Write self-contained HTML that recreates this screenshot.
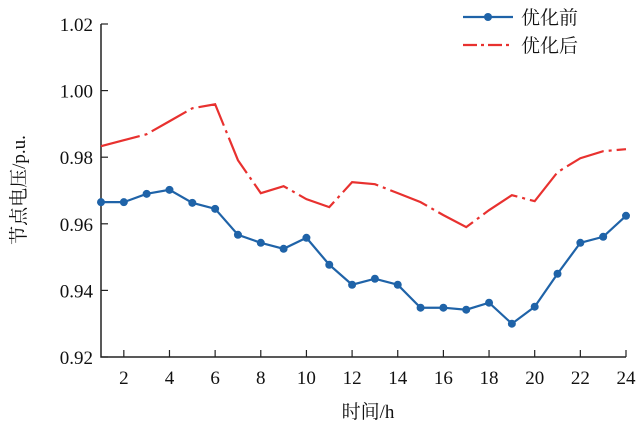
<!DOCTYPE html>
<html><head><meta charset="utf-8"><style>
body{margin:0;background:#fff;}
svg text{font-family:"Liberation Serif","Noto Serif CJK SC",serif;fill:#111;}
</style></head><body>
<svg width="637" height="429">
<g id="axes"></g><g id="series"></g>
<g>
<line x1="463" y1="17" x2="513" y2="17" stroke="#1f63a8" stroke-width="2.2"/>
<circle cx="488" cy="17" r="4" fill="#1f63a8"/>
<text x="521" y="24" font-size="19" font-family="Noto Sans CJK SC">优化前</text>
<line x1="463" y1="45" x2="513" y2="45" stroke="#e8312f" stroke-width="2.2" stroke-dasharray="14,4,3,4"/>
<text x="521" y="52" font-size="19">优化后</text>
</g>
<text x="368" y="418" font-size="19" text-anchor="middle">时间/h</text>
<text transform="translate(25,190) rotate(-90)" font-size="19" text-anchor="middle">节点电压/p.u.</text>
</svg>
<script>
const hours=[1,2,3,4,5,6,7,8,9,10,11,12,13,14,15,16,17,18,19,20,21,22,23,24];
const before=[0.9665,0.9665,0.969,0.9702,0.9663,0.9645,0.9567,0.9543,0.9525,0.9558,0.9477,0.9417,0.9435,0.9417,0.9348,0.9348,0.9342,0.9363,0.9300,0.9351,0.945,0.9543,0.9561,0.9624];
const after=[0.9833,0.9851,0.9869,0.9908,0.9947,0.9959,0.9791,0.9692,0.9713,0.9674,0.965,0.9725,0.9719,0.9692,0.9665,0.9626,0.959,0.9641,0.9686,0.9668,0.9755,0.9797,0.9818,0.9824];
const xTicks=[2,4,6,8,10,12,14,16,18,20,22,24];
const yTicks=[0.92,0.94,0.96,0.98,1.00,1.02];
const NS="http://www.w3.org/2000/svg";
const X0=101,X1=626,Y0=357,Y1=24;
const xs=h=>X0+(h-1)*(X1-X0)/23;
const ys=v=>Y0-(v-0.92)*(Y0-Y1)/0.10;
const axes=document.getElementById('axes'),ser=document.getElementById('series');
function mk(t,a,p){const e=document.createElementNS(NS,t);for(const k in a)e.setAttribute(k,a[k]);p.appendChild(e);return e;}
let ax=mk('path',{d:`M${X0},${Y1}V${Y0}H${X1}`,fill:'none',stroke:'#222','stroke-width':1.5},axes);


xTicks.forEach(t=>{const x=xs(t);
 const l=mk('line',{x1:x,x2:x,y1:Y0,y2:Y0-7,stroke:'#222','stroke-width':1.2},axes);
 
 
 const tx=mk('text',{x:x,y:Y0+27,'font-size':19,'text-anchor':'middle'},axes);tx.textContent=t;
 
 
});
yTicks.forEach(t=>{const y=ys(t);
 const l=mk('line',{x1:X0,x2:X0+7,y1:y,y2:y,stroke:'#222','stroke-width':1.2},axes);
 
 
 const tx=mk('text',{x:X0-8,y:y+7,'font-size':19,'text-anchor':'end'},axes);tx.textContent=t.toFixed(2);
 
 
});
const pa=mk('polyline',{points:hours.map((h,i)=>xs(h)+','+ys(after[i])).join(' '),fill:'none',stroke:'#e8312f','stroke-width':2.2,'stroke-dasharray':'40,5,3,5'},ser);


const pb=mk('polyline',{points:hours.map((h,i)=>xs(h)+','+ys(before[i])).join(' '),fill:'none',stroke:'#1f63a8','stroke-width':2.2},ser);


hours.forEach((h,i)=>{const c=mk('circle',{cx:xs(h),cy:ys(before[i]),r:4,fill:'#1f63a8'},ser);
 
 
});
</script>
</body></html>
